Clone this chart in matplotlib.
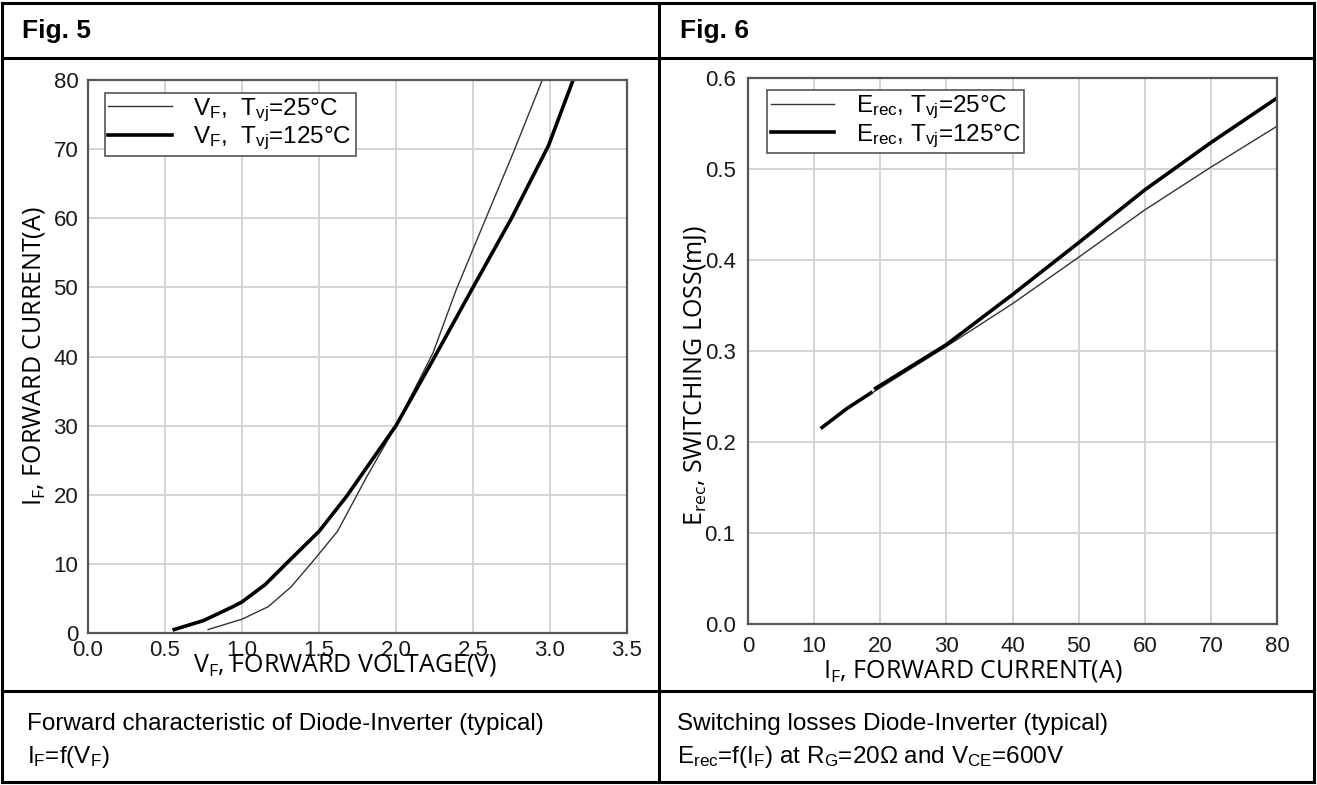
import numpy as np
import matplotlib
matplotlib.use("Agg")
import matplotlib.pyplot as plt
from matplotlib.lines import Line2D

plt.rcParams['font.family'] = ['Liberation Sans', 'DejaVu Sans']
plt.rcParams['mathtext.default'] = 'regular'

# Fig. 5 - forward characteristic (V, A)
vf_25 = [0.78, 1.0, 1.17, 1.32, 1.45, 1.62, 1.81, 2.0, 2.24, 2.39, 2.58, 2.76, 2.95]
if_25 = [0.5, 2.0, 3.8, 6.7, 10.1, 14.7, 22.6, 30.0, 40.5, 49.6, 59.8, 69.4, 80.0]
vf_125 = [0.56, 0.75, 0.94, 1.0, 1.15, 1.29, 1.5, 1.68, 2.0, 2.24, 2.49, 2.75, 2.99, 3.15]
if_125 = [0.5, 1.8, 3.8, 4.5, 7.0, 10.1, 14.7, 19.8, 30.0, 39.5, 49.6, 60.0, 70.5, 80.0]

# Fig. 6 - switching losses (A, mJ); nan marks the small break in the 125C curve
if6_25 = [19.0, 30.0, 40.0, 50.0, 60.0, 70.0, 80.0]
erec_25 = [0.255, 0.305, 0.352, 0.403, 0.455, 0.502, 0.547]
if6_125 = [11.2, 15.0, 18.6, np.nan, 19.3, 30.0, 40.0, 50.0, 60.0, 70.0, 80.0]
erec_125 = [0.216, 0.237, 0.254, np.nan, 0.259, 0.307, 0.362, 0.419, 0.477, 0.529, 0.578]

x5_ticks = [0.0, 0.5, 1.0, 1.5, 2.0, 2.5, 3.0, 3.5]
y5_ticks = [0, 10, 20, 30, 40, 50, 60, 70, 80]
x6_ticks = [0, 10, 20, 30, 40, 50, 60, 70, 80]
y6_ticks = [0.0, 0.1, 0.2, 0.3, 0.4, 0.5, 0.6]

W, H = 1317, 785
fig = plt.figure(figsize=(W / 100, H / 100), dpi=100)


def fx(px):
    return px / W


def fy(py):
    return 1 - py / H


# table frame
for (x0, y0, x1, y1) in [(2, 3, 1314, 3), (2, 782, 1314, 782), (2, 3, 2, 782),
                         (1314, 3, 1314, 782), (2, 58, 1314, 58), (2, 691, 1314, 691),
                         (659, 3, 659, 782)]:
    fig.add_artist(Line2D([fx(x0), fx(x1)], [fy(y0), fy(y1)], color='black', lw=2.2))

head_font = ['Liberation Sans Narrow', 'Liberation Sans', 'DejaVu Sans']
fig.text(fx(22), fy(31), 'Fig. 5', fontsize=19, fontweight='bold', family=head_font, va='center')
fig.text(fx(680), fy(31), 'Fig. 6', fontsize=19, fontweight='bold', family=head_font, va='center')

fig.text(fx(27), fy(724), 'Forward characteristic of Diode-Inverter (typical)',
         fontsize=17.5, family=head_font, va='center')
fig.text(fx(27), fy(757), r'I$_F$=f(V$_F$)', fontsize=17.5, family=head_font, va='center')
fig.text(fx(677), fy(724), 'Switching losses Diode-Inverter (typical)',
         fontsize=17.5, family=head_font, va='center')
fig.text(fx(677), fy(757), r'E$_{rec}$=f(I$_F$) at R$_G$=20Ω and V$_{CE}$=600V',
         fontsize=17.5, family=head_font, va='center')

ax5 = fig.add_axes([fx(88), fy(633), fx(627 - 88), (633 - 80) / H])
ax6 = fig.add_axes([fx(748), fy(624), fx(1277 - 748), (624 - 78) / H])

label_font = ['Open Sans', 'DejaVu Sans']

for ax in (ax5, ax6):
    ax.grid(True, color='#d4d4d4', lw=1.4)
    ax.set_axisbelow(True)
    for s in ax.spines.values():
        s.set_color('#555555')
        s.set_linewidth(1.6)
    ax.tick_params(length=0, labelsize=16, labelcolor='#1a1a1a')

ax5.plot(vf_25, if_25, color='#333333', lw=1.0, label=r'V$_F$,  T$_{vj}$=25°C')
ax5.plot(vf_125, if_125, color='black', lw=2.6, label=r'V$_F$,  T$_{vj}$=125°C')
ax5.set_xlim(0, 3.5)
ax5.set_ylim(0, 80)
ax5.set_xticks(x5_ticks)
ax5.set_xticklabels([f'{v:.1f}' for v in x5_ticks])
ax5.set_yticks(y5_ticks)
ax5.tick_params(axis='x', pad=5)
ax5.tick_params(axis='y', pad=7)
ax5.set_xlabel(r'V$_F$, FORWARD VOLTAGE(V)', fontsize=18, family=label_font, va='center')
ax5.set_ylabel(r'I$_F$, FORWARD CURRENT(A)', fontsize=18, family=label_font, va='center')
ax5.xaxis.set_label_coords(0.477, -0.057)
ax5.yaxis.set_label_coords(-0.100, 0.50)

ax6.plot(if6_25, erec_25, color='#333333', lw=1.0, label=r'E$_{rec}$, T$_{vj}$=25°C')
ax6.plot(if6_125, erec_125, color='black', lw=2.6, label=r'E$_{rec}$, T$_{vj}$=125°C')
ax6.set_xlim(0, 80)
ax6.set_ylim(0, 0.6)
ax6.set_xticks(x6_ticks)
ax6.set_yticks(y6_ticks)
ax6.set_yticklabels([f'{v:.1f}' for v in y6_ticks])
ax6.tick_params(axis='x', pad=9)
ax6.tick_params(axis='y', pad=9)
ax6.set_xlabel(r'I$_F$, FORWARD CURRENT(A)', fontsize=18, family=label_font, va='center')
ax6.set_ylabel(r'E$_{rec}$, SWITCHING LOSS(mJ)', fontsize=18, family=label_font, va='center')
ax6.xaxis.set_label_coords(0.425, -0.086)
ax6.yaxis.set_label_coords(-0.100, 0.456)

for ax, anchor in ((ax5, (0.031, 0.977)), (ax6, (0.036, 0.978))):
    leg = ax.legend(loc='upper left', bbox_to_anchor=anchor, borderaxespad=0,
                    fontsize=17.5, fancybox=False, framealpha=1, edgecolor='#555555',
                    handlelength=2.6, handletextpad=0.9, borderpad=0.15, labelspacing=0.05)
    leg.get_frame().set_linewidth(1.2)

fig.savefig('out.png', dpi=100)
